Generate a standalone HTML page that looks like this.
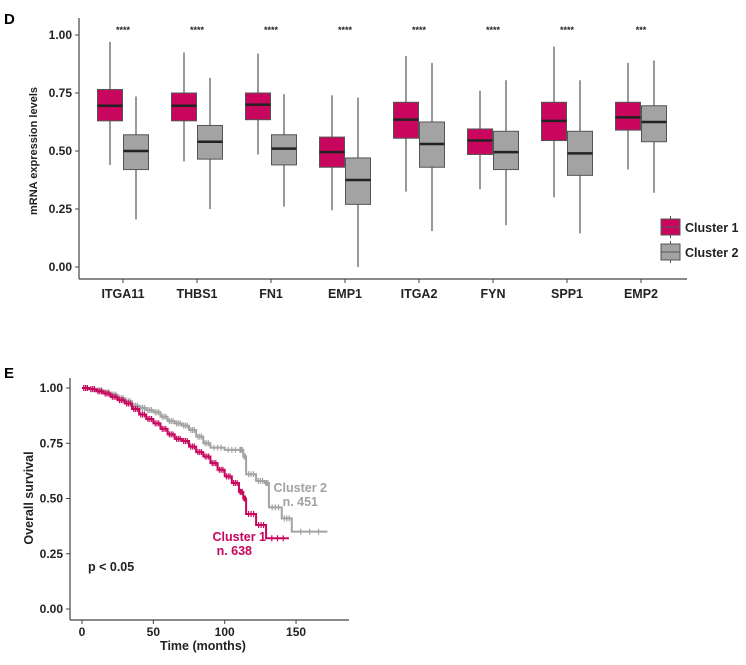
<!DOCTYPE html>
<html><head><meta charset="utf-8">
<style>
body{margin:0;background:#fff;width:746px;height:660px;overflow:hidden;font-family:"Liberation Sans",Arial,sans-serif;}
svg text{font-family:"Liberation Sans",Arial,sans-serif;font-weight:bold;}
</style></head>
<body>
<svg id="fig" width="746" height="660" xmlns="http://www.w3.org/2000/svg">
<text x="4" y="24" font-size="15">D</text>
<text x="4" y="378" font-size="15">E</text>
<g id="boxplot"></g>
<g id="km"></g>
</svg>
<script>
const genes=["ITGA11","THBS1","FN1","EMP1","ITGA2","FYN","SPP1","EMP2"];
const sig=["****","****","****","****","****","****","****","***"];
// [whiskerLow,q1,median,q3,whiskerHigh]
const c1Stats=[[0.44,0.63,0.695,0.765,0.97],[0.455,0.63,0.695,0.75,0.925],[0.485,0.635,0.70,0.75,0.92],[0.245,0.43,0.495,0.56,0.74],[0.325,0.555,0.635,0.71,0.91],[0.335,0.485,0.545,0.595,0.76],[0.30,0.545,0.63,0.71,0.95],[0.42,0.59,0.645,0.71,0.88]];
const c2Stats=[[0.205,0.42,0.50,0.57,0.735],[0.25,0.465,0.54,0.61,0.815],[0.26,0.44,0.51,0.57,0.745],[0.0,0.27,0.375,0.47,0.73],[0.155,0.43,0.53,0.625,0.88],[0.18,0.42,0.495,0.585,0.805],[0.145,0.395,0.49,0.585,0.805],[0.32,0.54,0.625,0.695,0.89]];
const yTicks=[0,0.25,0.5,0.75,1.0];
const yTickLabels=["0.00","0.25","0.50","0.75","1.00"];
// survival curves
const c1Times=[0,5,10,15,20,25,30,35,40,45,50,55,60,65,70,75,80,85,90,95,100,105,110,113,115,122,129,145];
const c1Surv=[1,0.995,0.985,0.975,0.96,0.945,0.93,0.905,0.88,0.86,0.84,0.815,0.79,0.77,0.76,0.735,0.71,0.69,0.66,0.63,0.60,0.57,0.53,0.50,0.43,0.38,0.32,0.32];
const c2Times=[0,5,10,15,20,25,30,35,40,45,50,55,60,65,70,75,80,85,90,100,110,113,115,122,128,131,140,147,172];
const c2Surv=[1,0.995,0.99,0.98,0.97,0.955,0.94,0.92,0.91,0.90,0.89,0.87,0.85,0.84,0.83,0.81,0.78,0.75,0.73,0.72,0.72,0.69,0.61,0.58,0.57,0.46,0.41,0.35,0.35];
const kmXTicks=[0,50,100,150];

const NS="http://www.w3.org/2000/svg";
function mk(parent,tag,attrs,txt){const e=document.createElementNS(NS,tag);for(const k in attrs)e.setAttribute(k,attrs[k]);if(txt!==undefined)e.textContent=txt;parent.appendChild(e);return e;}
const MAG="#c8065e",GRY="#a3a3a3";

// ---- boxplot
const bp=document.getElementById("boxplot");
const by=v=>35+(1-v)*232;
const bx=i=>123+i*74;
let e;
e=mk(bp,"line",{x1:79,y1:18,x2:79,y2:279,stroke:"#444","stroke-width":1.2});

e=mk(bp,"line",{x1:79,y1:279,x2:687,y2:279,stroke:"#444","stroke-width":1.2});

yTicks.forEach((t,i)=>{
  mk(bp,"line",{x1:75,x2:79,y1:by(t),y2:by(t),stroke:"#444"});
  e=mk(bp,"text",{x:72,y:by(t)+4,"font-size":12,"text-anchor":"end",fill:"#222"},yTickLabels[i]);
  
});
e=mk(bp,"text",{x:0,y:0,"font-size":11,"text-anchor":"middle",transform:"translate(37,151) rotate(-90)",fill:"#222"},"mRNA expression levels");

function drawBox(s,cx,fill,name){
  const g=mk(bp,"g",{});
  
  mk(g,"line",{x1:cx,x2:cx,y1:by(s[0]),y2:by(s[4]),stroke:"#555","stroke-width":1.2});
  mk(g,"rect",{x:cx-12.5,y:by(s[3]),width:25,height:by(s[1])-by(s[3]),fill:fill,stroke:"#555","stroke-width":1});
  mk(g,"line",{x1:cx-12.5,x2:cx+12.5,y1:by(s[2]),y2:by(s[2]),stroke:"#222","stroke-width":2.5});
}
genes.forEach((g,i)=>{
  const c=bx(i);
  drawBox(c1Stats[i],c-13,MAG,"box-cluster1-"+g.toLowerCase());
  drawBox(c2Stats[i],c+13,GRY,"box-cluster2-"+g.toLowerCase());
  mk(bp,"line",{x1:c,x2:c,y1:279,y2:283,stroke:"#444"});
  e=mk(bp,"text",{x:c,y:298,"font-size":12.5,"text-anchor":"middle",fill:"#222"},g);
  
  e=mk(bp,"text",{x:c,y:33,"font-size":9,"text-anchor":"middle",fill:"#222","font-weight":"normal"},sig[i]);
  
});
[[MAG,"Cluster 1",219],[GRY,"Cluster 2",244]].forEach(([f,l,y])=>{
  const g=mk(bp,"g",{});
  
  mk(g,"line",{x1:670.5,x2:670.5,y1:y-3,y2:y+19,stroke:"#555"});
  mk(g,"rect",{x:661,y:y,width:19,height:16,fill:f,stroke:"#555"});
  mk(g,"line",{x1:661,x2:680,y1:y+8,y2:y+8,stroke:"#555"});
  mk(g,"text",{x:685,y:y+13,"font-size":12.5,fill:"#222"},l);
});

// ---- KM
const km=document.getElementById("km");
const ky=v=>388+(1-v)*221;
const kx=t=>82+t*1.427;
e=mk(km,"line",{x1:70,y1:378,x2:70,y2:620,stroke:"#444","stroke-width":1.2});

e=mk(km,"line",{x1:70,y1:620,x2:349,y2:620,stroke:"#444","stroke-width":1.2});

yTicks.forEach((t,i)=>{
  mk(km,"line",{x1:66,x2:70,y1:ky(t),y2:ky(t),stroke:"#444"});
  e=mk(km,"text",{x:63,y:ky(t)+4,"font-size":12,"text-anchor":"end",fill:"#222"},yTickLabels[i]);
  
});
kmXTicks.forEach(t=>{
  mk(km,"line",{x1:kx(t),x2:kx(t),y1:620,y2:624,stroke:"#444"});
  e=mk(km,"text",{x:kx(t),y:636,"font-size":12,"text-anchor":"middle",fill:"#222"},String(t));
  
});
e=mk(km,"text",{x:203,y:650,"font-size":12.5,"text-anchor":"middle",fill:"#222"},"Time (months)");

e=mk(km,"text",{x:0,y:0,"font-size":12.5,"text-anchor":"middle",transform:"translate(33,498) rotate(-90)",fill:"#222"},"Overall survival");

function stepPath(T,S){let d="M"+kx(T[0])+","+ky(S[0]);for(let i=1;i<T.length;i++){d+=" H"+kx(T[i])+" V"+ky(S[i]);}return d;}
function censor(g,T,S,col){for(let i=0;i<T.length-1;i++){for(let k=1;k<=3;k++){const t=T[i]+(T[i+1]-T[i])*k/4;const x=kx(t),y=ky(S[i]);mk(g,"line",{x1:x,x2:x,y1:y-3,y2:y+3,stroke:col,"stroke-width":1.2});}}}
e=mk(km,"path",{d:stepPath(c2Times,c2Surv),fill:"none",stroke:GRY,"stroke-width":2});

let cg=mk(km,"g",{});censor(cg,c2Times,c2Surv,GRY);
e=mk(km,"path",{d:stepPath(c1Times,c1Surv),fill:"none",stroke:MAG,"stroke-width":2});

cg=mk(km,"g",{});censor(cg,c1Times,c1Surv,MAG);
e=mk(km,"text",{x:327,y:492,"font-size":12.5,"text-anchor":"end",fill:GRY},"Cluster 2");

mk(km,"text",{x:318,y:506,"font-size":12.5,"text-anchor":"end",fill:GRY},"n. 451");
e=mk(km,"text",{x:266,y:541,"font-size":12.5,"text-anchor":"end",fill:MAG},"Cluster 1");

mk(km,"text",{x:252,y:555,"font-size":12.5,"text-anchor":"end",fill:MAG},"n. 638");
e=mk(km,"text",{x:88,y:571,"font-size":12.5,fill:"#222"},"p < 0.05");

</script>
</body></html>
